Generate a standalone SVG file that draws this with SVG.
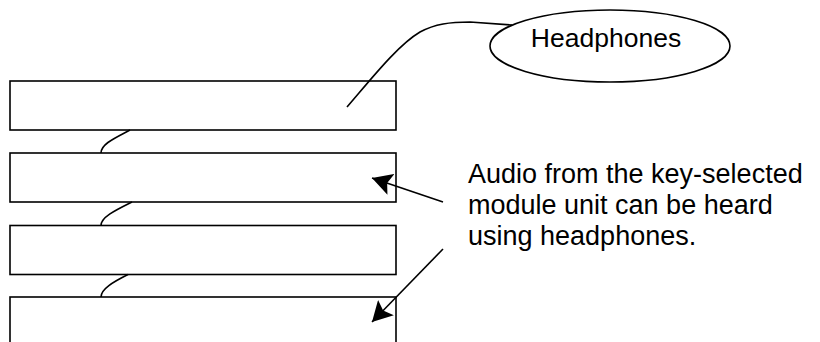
<svg xmlns="http://www.w3.org/2000/svg" width="820" height="342" viewBox="0 0 820 342">
<style>
.box{fill:#fff;stroke:#000;stroke-width:1.6}
.wire{fill:none;stroke:#000;stroke-width:1.6}
.lbl{font-family:"Liberation Sans",Arial,sans-serif;fill:#000}
</style>
<defs>
<marker id="ah" markerUnits="userSpaceOnUse" markerWidth="22" markerHeight="22" refX="20" refY="11" orient="auto" viewBox="0 0 22 22">
<path d="M0,0 L20,11 L0,22 L4,11 Z" fill="#000"/>
</marker>
</defs>
<rect width="820" height="342" fill="#fff"/>
<g id="module1"><rect class="box" x="10" y="81" width="386" height="49"/></g>
<g id="module2"><rect class="box" x="10" y="153" width="386" height="49"/></g>
<g id="module3"><rect class="box" x="10" y="225.5" width="386" height="49"/></g>
<g id="module4"><rect class="box" x="10" y="297" width="386" height="60"/></g>
<g id="headphones">
<ellipse class="box" cx="610" cy="46" rx="120" ry="36"/>
<text class="lbl" x="606" y="47" font-size="26.5" text-anchor="middle">Headphones</text>
</g>
<g id="note">
<text class="lbl" x="468" y="183" font-size="27">Audio from the key-selected</text>
<text class="lbl" x="468" y="214" font-size="27">module unit can be heard</text>
<text class="lbl" x="468" y="245" font-size="27">using headphones.</text>
</g>
<g id="connectors">
<path class="wire" d="M130,130 C115,138 101,144 101,153"/>
<path class="wire" d="M132,202 C116,210 101,217 101,225.5"/>
<path class="wire" d="M128,274.5 C113,282 101,289 101,297"/>
<path class="wire" d="M347,107 C372,78 398,45 420,32 C435,24 450,22 470,22 L512,25"/>
<line class="wire" x1="443" y1="202" x2="372" y2="178" marker-end="url(#ah)"/>
<line class="wire" x1="443" y1="249" x2="372" y2="322" marker-end="url(#ah)"/>
</g>
</svg>
